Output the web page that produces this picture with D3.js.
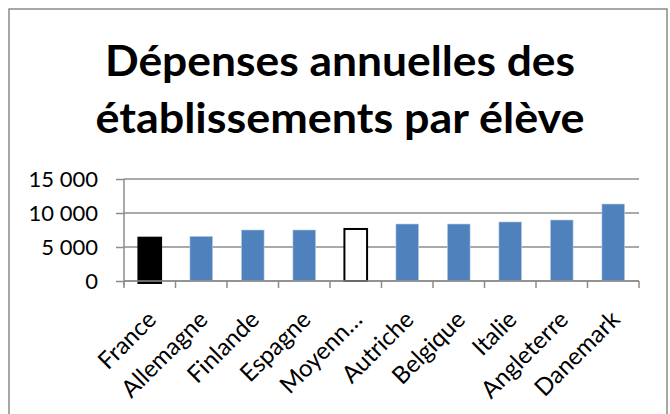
<!DOCTYPE html>
<html>
<head>
<meta charset="utf-8">
<script src="https://cdn.jsdelivr.net/npm/d3@7"></script>
<style>
  body { margin: 0; background: #fff; }
  text { font-family: Lato, "Noto Sans", sans-serif; fill: #000; }
</style>
</head>
<body>
<svg id="chart" width="670" height="414"></svg>
<script>
'use strict';
// dépenses annuelles par élève, par pays
const countries = ['France', 'Allemagne', 'Finlande', 'Espagne', 'Moyenn…', 'Autriche', 'Belgique', 'Italie', 'Angleterre', 'Danemark'];
const spending = [6370, 6560, 7500, 7500, 7650, 8380, 8380, 8680, 8970, 11320];
const yTicks = [0, 5000, 10000, 15000];
const titleLines = ['Dépenses annuelles des', 'établissements par élève'];

const svg = d3.select('#chart');
const margin = {top: 179, right: 31, bottom: 133, left: 124};
const width = 670 - margin.left - margin.right;
const height = 414 - margin.top - margin.bottom;

const fr = d3.formatLocale({decimal: ',', thousands: ' ', grouping: [3], currency: ['', ' €']});
const fmt = fr.format(',d');

// outer frame of the chart
svg.append('rect')
  .attr('x', 9).attr('y', 9)
  .attr('width', 658).attr('height', 420)
  .attr('fill', '#fff')
  .attr('stroke', '#8a8a8a')
  .attr('stroke-width', 1.5);

// title, two lines
const titleWidths = [470, 489];
svg.append('g')
  .selectAll('text')
  .data(titleLines)
  .enter()
  .append('text')
  .attr('x', 340)
  .attr('y', (d, i) => 76 + i * 57)
  .attr('text-anchor', 'middle')
  .attr('textLength', (d, i) => titleWidths[i])
  .attr('lengthAdjust', 'spacingAndGlyphs')
  .style('font-size', '42px')
  .style('font-weight', 'bold')
  .text(d => d);

const g = svg.append('g')
  .attr('transform', `translate(${margin.left},${margin.top})`);

const x = d3.scaleBand()
  .domain(countries)
  .range([0, width])
  .paddingInner(0.56)
  .paddingOuter(0.28);

const y = d3.scaleLinear()
  .domain([0, 15000])
  .range([height, 0]);

// horizontal gridlines
g.append('g')
  .selectAll('line')
  .data(yTicks)
  .enter()
  .append('line')
  .attr('x1', 0).attr('x2', width)
  .attr('y1', d => y(d)).attr('y2', d => y(d))
  .attr('stroke', '#8c8c8c')
  .attr('stroke-width', 1.5);

// y axis
const yAxis = g.append('g')
  .call(d3.axisLeft(y).tickValues(yTicks).tickFormat(fmt).tickSize(8).tickPadding(18));
yAxis.select('.domain').attr('stroke', '#8c8c8c').attr('stroke-width', 1.5)
  .attr('d', `M0,0V${height + 4}`);
yAxis.selectAll('.tick line').attr('stroke', '#8c8c8c').attr('stroke-width', 1.5);
yAxis.selectAll('.tick text')
  .style('font-size', '22px')
  .style('font-family', 'Lato, sans-serif')
  .attr('fill', '#000')
  .attr('dy', '0.36em');

// bars (France drawn slightly past the axis like in the original)
g.append('g')
  .selectAll('rect')
  .data(spending)
  .enter()
  .append('rect')
  .attr('x', (d, i) => x(countries[i]))
  .attr('y', d => y(d))
  .attr('width', x.bandwidth())
  .attr('height', (d, i) => y(0) - y(d) + (i === 0 ? 2 : 0))
  .attr('fill', (d, i) => i === 0 ? '#000' : (i === 4 ? '#fff' : '#4f81bd'))
  .attr('stroke', (d, i) => i === 0 || i === 4 ? '#000' : '#b9cde5')
  .attr('stroke-width', (d, i) => i === 0 || i === 4 ? 2 : 0.6);

// x axis line + category boundary ticks
g.append('line')
  .attr('x1', 0).attr('x2', width)
  .attr('y1', y(0)).attr('y2', y(0))
  .attr('stroke', '#8c8c8c')
  .attr('stroke-width', 1.5);

g.append('g')
  .selectAll('line')
  .data(d3.range(countries.length + 1))
  .enter()
  .append('line')
  .attr('x1', i => i * x.step()).attr('x2', i => i * x.step())
  .attr('y1', y(0)).attr('y2', y(0) + 7)
  .attr('stroke', '#8c8c8c')
  .attr('stroke-width', 1.5);

// rotated category labels
g.append('g')
  .selectAll('text')
  .data(countries)
  .enter()
  .append('text')
  .attr('transform', d => `translate(${x(d) + x.bandwidth() / 2 + 8},${height + 40}) rotate(-45)`)
  .attr('text-anchor', 'end')
  .style('font-size', '24px')
  .text(d => d);
</script>
</body>
</html>
